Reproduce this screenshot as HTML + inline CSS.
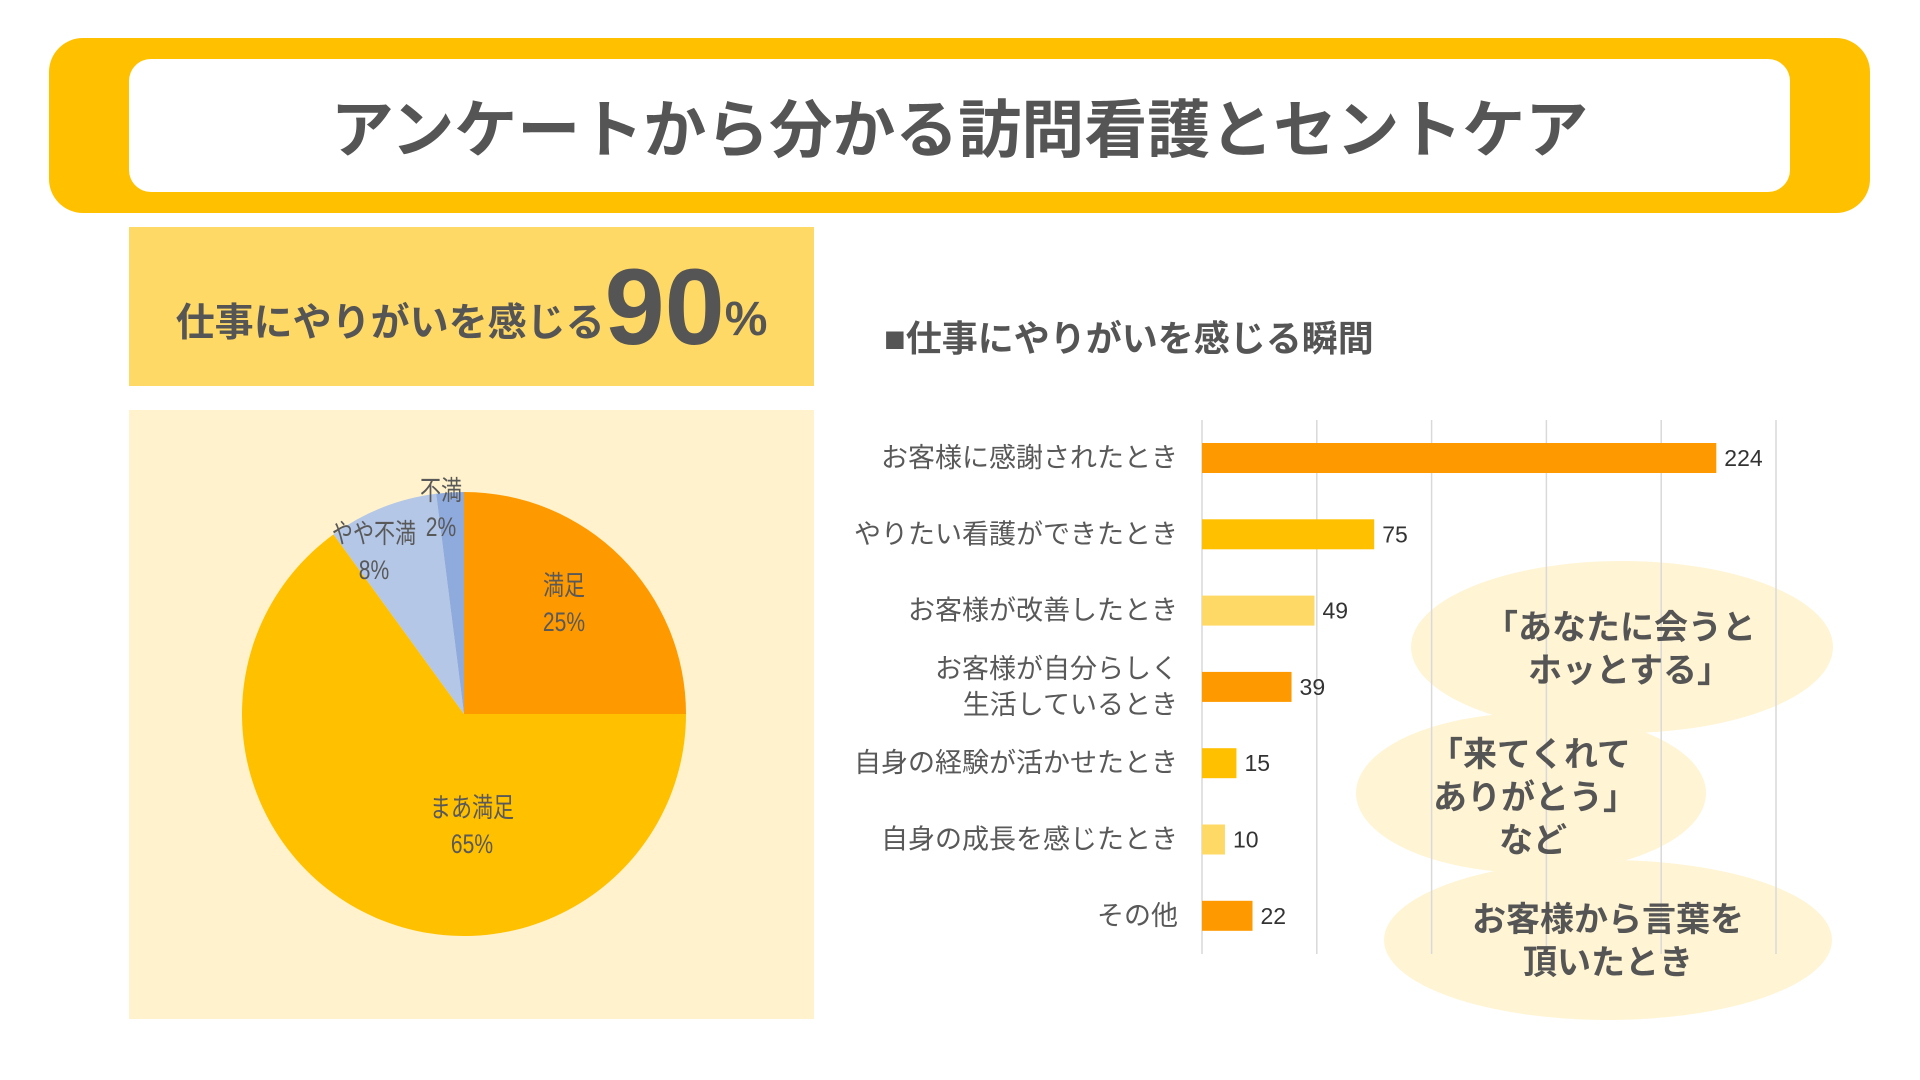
<!DOCTYPE html>
<html><head><meta charset="utf-8"><style>
body{margin:0;width:1920px;height:1080px;background:#fff;font-family:"Liberation Sans","Noto Sans CJK JP",sans-serif;color:#595959;overflow:hidden;position:relative}
.abs{position:absolute}
</style></head><body>
<div class="abs" style="left:49px;top:38px;width:1821px;height:175px;background:#FFC000;border-radius:34px"></div>
<div class="abs" style="left:129px;top:59px;width:1661px;height:133px;background:#fff;border-radius:22px;display:flex;align-items:center;justify-content:center">
<span style="font-size:63px;font-weight:bold;color:#555;letter-spacing:0px">アンケートから分かる訪問看護とセントケア</span></div>
<div class="abs" style="left:129px;top:227px;width:685px;height:159px;background:#FFD966;display:flex;align-items:center;justify-content:center;color:#555;font-weight:bold">
<span style="font-size:39px;margin-top:26px">仕事にやりがいを感じる</span><span style="font-size:108px;line-height:1">90</span><span style="font-size:48px;margin-top:26px">%</span></div>
<div class="abs" style="left:129px;top:410px;width:685px;height:609px;background:#FFF2CC"></div>
<svg class="abs" style="left:0;top:0" width="1920" height="1080" id="svg"></svg>
<div class="abs" style="left:884px;top:310px;font-size:36px;font-weight:bold;color:#555">■仕事にやりがいを感じる瞬間</div>
<script>
const pieLabels=["満足","まあ満足","やや不満","不満"];
const pieValues=[25,65,8,2];
const pieColors=["#FF9900","#FFC000","#B4C7E7","#8FAADC"];
const barCats=["お客様に感謝されたとき","やりたい看護ができたとき","お客様が改善したとき","お客様が自分らしく\n生活しているとき","自身の経験が活かせたとき","自身の成長を感じたとき","その他"];
const barValues=[224,75,49,39,15,10,22];
const barColors=["#FF9900","#FFC000","#FFD966","#FF9900","#FFC000","#FFD966","#FF9900"];
const xTicks=[0,50,100,150,200,250];
const NS="http://www.w3.org/2000/svg";
const svg=document.getElementById('svg');
function mk(t,a,p){const e=document.createElementNS(NS,t);for(const k in a)e.setAttribute(k,a[k]);(p||svg).appendChild(e);return e;}
// ellipses
const ells=[[1622,647,211,86],[1531,793,175,80],[1608,940,224,80]];
ells.forEach((d,i)=>{const e=mk('ellipse',{cx:d[0],cy:d[1],rx:d[2],ry:d[3],fill:'#FFF4D4'});

});
// pie
const cx=464,cy=714,r=222;const tot=pieValues.reduce((a,b)=>a+b,0);
let ang=0;
const lblPos=[[564,585],[472,807],[374,533],[441,490]];
pieValues.forEach((v,i)=>{const a0=ang,a1=ang+v/tot*2*Math.PI;ang=a1;
const x0=cx+r*Math.sin(a0),y0=cy-r*Math.cos(a0),x1=cx+r*Math.sin(a1),y1=cy-r*Math.cos(a1);
const p=mk('path',{d:`M${cx},${cy}L${x0},${y0}A${r},${r} 0 ${a1-a0>Math.PI?1:0} 1 ${x1},${y1}Z`,fill:pieColors[i]});


});
pieValues.forEach((v,i)=>{const [lx,ly]=lblPos[i];
const g=mk('g',{transform:`translate(${lx},0) scale(0.78,1)`});
const t=mk('text',{x:0,y:ly+10,'text-anchor':'middle','font-size':27,fill:'#595959'},g);t.textContent=pieLabels[i];


const t2=mk('text',{x:0,y:ly+46,'text-anchor':'middle','font-size':27,fill:'#595959'},g);t2.textContent=v+'%';

});
// bar chart
const x0=1202,pxPerUnit=(1776-1202)/250,gTop=420,gBot=954,band=76.3,firstC=458,bh=30;
const X=v=>x0+v*pxPerUnit;
xTicks.forEach(t=>{const l=mk('line',{x1:X(t),x2:X(t),y1:gTop,y2:gBot,stroke:'#d9d9d9','stroke-width':1.5});

});
barValues.forEach((v,i)=>{const yc=firstC+i*band;
const b=mk('rect',{x:x0,y:yc-bh/2,width:X(v)-x0,height:bh,fill:barColors[i]});


const vt=mk('text',{x:X(v)+8,y:yc+8,'font-size':23,fill:'#333'});vt.textContent=v;


const lines=barCats[i].split('\n');
lines.forEach((ln,j)=>{const t=mk('text',{x:1178,y:yc+9+(j-(lines.length-1)/2)*36,'text-anchor':'end','font-size':27,fill:'#595959'});t.textContent=ln;

});
});
// comment texts
const cm=[["「あなたに会うと",1484,639,'start'],["ホッとする」",1528,682,'start'],["「来てくれて",1429,766,'start'],["ありがとう」",1433,809,'start'],["など",1533,852,'middle'],["お客様から言葉を",1608,931,'middle'],["頂いたとき",1608,974,'middle']];
cm.forEach(c=>{const t=mk('text',{x:c[1],y:c[2],'text-anchor':c[3],'font-size':34,'font-weight':'bold',fill:'#555'});t.textContent=c[0];

});
</script>
</body></html>
